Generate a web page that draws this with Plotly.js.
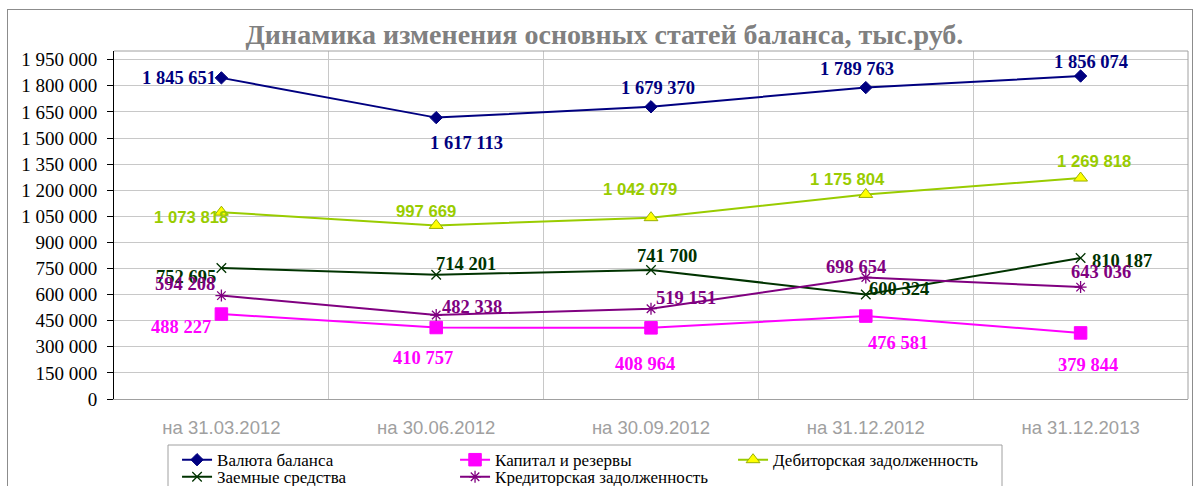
<!DOCTYPE html>
<html>
<head>
<meta charset="utf-8">
<script src="https://cdn.plot.ly/plotly-3.0.1.min.js"></script>
<style>
  html, body { margin: 0; padding: 0; background: #ffffff; }
  #wrap { position: relative; width: 1197px; height: 486px; overflow: hidden; }
  #chart { width: 1197px; height: 486px; }
  #frame { position: absolute; left: 7px; top: 9px; width: 1186px; height: 520px;
           border: 1px solid #8c8c8c; pointer-events: none; box-sizing: border-box; }
</style>
</head>
<body>
<div id="wrap">
  <div id="chart"></div>
  <div id="frame"></div>
</div>
<script>
// ---- data ----
const categories = ['на 31.03.2012', 'на 30.06.2012', 'на 30.09.2012', 'на 31.12.2012', 'на 31.12.2013'];
const valyutaBalansa = [1845651, 1617113, 1679370, 1789763, 1856074];
const kapitalIRezervy = [488227, 410757, 408964, 476581, 379844];
const debitorskaya = [1073818, 997669, 1042079, 1175804, 1269818];
const zaemnyeSredstva = [752695, 714201, 741700, 600324, 810187];
const kreditorskaya = [594208, 482338, 519151, 698654, 643036];
const seriesNames = ['Валюта баланса', 'Капитал и резервы', 'Дебиторская задолженность',
                     'Заемные средства', 'Кредиторская задолженность'];
const chartTitle = 'Динамика изменения основных статей баланса, тыс.руб.';

// ---- label placement (pixel offsets of label centre from point: [dx, dy], dy down) ----
const offValyuta = [[-42, 0], [30, 25], [7, -19], [-9, -19], [10, -14]];
const offKapital = [[-40, 13], [-13, 30], [-6, 36], [32, 27], [7, 32]];
const offDebitor = [[-30, 5], [-10, -14], [-11, -28], [-18, -15], [13, -17]];
const offZaemnye = [[-35, 9], [30, -11], [16, -14], [33, -6], [41, 3]];
const offKreditor = [[-36, -12], [36, -8], [35, -11], [-10, -10], [20, -15]];

const SERIF = '"Liberation Serif", "Times New Roman", serif';
const SANS = '"Liberation Sans", Arial, sans-serif';

function fmt(v) {
  return Math.round(v).toString().replace(/\B(?=(\d{3})+(?!\d))/g, ' ');
}

const styles = [
  { vals: valyutaBalansa, color: '#000080', off: offValyuta, family: SERIF, fsize: 18.5,
    marker: { symbol: 'diamond', size: 9.5, color: '#000080', line: { color: '#000080', width: 1 } }, legend: 'legend' },
  { vals: kapitalIRezervy, color: '#ff00ff', off: offKapital, family: SERIF, fsize: 18.5,
    marker: { symbol: 'square', size: 12.5, color: '#ff00ff', line: { color: '#ff00ff', width: 1 } }, legend: 'legend' },
  { vals: debitorskaya, color: '#99cc00', off: offDebitor, family: SANS, fsize: 16.7,
    marker: { symbol: 'triangle-up', size: 12, color: '#ffff00', line: { color: '#99b000', width: 1 } }, legend: 'legend' },
  { vals: zaemnyeSredstva, color: '#003300', off: offZaemnye, family: SERIF, fsize: 18.5,
    marker: { symbol: 'x-thin-open', size: 9.5, color: '#003300', line: { color: '#003300', width: 1.3 } }, legend: 'legend2' },
  { vals: kreditorskaya, color: '#800080', off: offKreditor, family: SERIF, fsize: 18.5,
    marker: { symbol: 'asterisk-open', size: 10, color: '#800080', line: { color: '#800080', width: 1.3 } }, legend: 'legend2' }
];

const traces = styles.map((s, k) => ({
  type: 'scatter',
  mode: 'lines+markers',
  name: seriesNames[k],
  x: categories,
  y: s.vals,
  line: { color: s.color, width: 2 },
  marker: s.marker,
  legend: s.legend,
  hoverinfo: 'x+y+name'
}));

const annotations = [];
styles.forEach((s) => {
  s.vals.forEach((v, i) => {
    annotations.push({
      x: categories[i], y: v, xref: 'x', yref: 'y',
      text: '<b>' + fmt(v) + '</b>',
      showarrow: false,
      xanchor: 'center', yanchor: 'middle',
      xshift: s.off[i][0], yshift: -s.off[i][1],
      font: { family: s.family, size: s.fsize, color: s.color }
    });
  });
});

function legendCfg(yv) {
  return {
    orientation: 'h',
    xanchor: 'left', yanchor: 'top',
    x: 0.0587, y: yv,
    bgcolor: 'rgba(0,0,0,0)',
    borderwidth: 0,
    entrywidth: 233,
    entrywidthmode: 'pixels',
    font: { family: SERIF, size: 17, color: '#000000' }
  };
}

const layout = {
  width: 1197,
  height: 486,
  font: { family: SERIF, size: 17, color: '#000000' },
  paper_bgcolor: '#ffffff',
  plot_bgcolor: '#ffffff',
  margin: { l: 114, r: 9, t: 51, b: 87, autoexpand: false },
  separators: ', ',
  title: {
    text: '<b>' + chartTitle + '</b>',
    x: 0.505, xanchor: 'center',
    y: 1 - 34 / 486, yanchor: 'middle',
    font: { family: SERIF, size: 28, color: '#808080' }
  },
  xaxis: {
    type: 'category',
    range: [-0.5, categories.length - 0.5],
    tickson: 'boundaries',
    showgrid: true,
    gridcolor: '#c8c8c8',
    gridwidth: 1,
    showline: true,
    linecolor: '#a0a0a0',
    linewidth: 1,
    ticks: '',
    ticklabelstandoff: 12,
    tickfont: { family: SANS, size: 18.5, color: '#a0a0a0' },
    zeroline: false,
    automargin: false,
    fixedrange: true
  },
  yaxis: {
    range: [0, 2000000],
    tick0: 0,
    dtick: 150000,
    tickformat: ',d',
    showgrid: true,
    gridcolor: '#c8c8c8',
    gridwidth: 1,
    showline: true,
    linecolor: '#000000',
    linewidth: 1,
    ticks: 'outside',
    ticklen: 6,
    tickcolor: '#000000',
    tickwidth: 1,
    ticklabelstandoff: 6,
    tickfont: { family: SERIF, size: 19, color: '#000000' },
    zeroline: false,
    automargin: false,
    fixedrange: true
  },
  showlegend: true,
  legend: legendCfg(-0.124),
  legend2: legendCfg(-0.173),
  shapes: [
    { type: 'line', xref: 'paper', yref: 'paper', x0: 0, x1: 1, y0: 1, y1: 1,
      line: { color: '#a0a0a0', width: 1 } },
    { type: 'line', xref: 'paper', yref: 'paper', x0: 1, x1: 1, y0: 0, y1: 1,
      line: { color: '#a0a0a0', width: 1 } },
    { type: 'rect', xref: 'paper', yref: 'paper',
      x0: (168 - 114) / 1074, x1: (1002 - 114) / 1074,
      y0: (399 - 445) / 348, y1: (399 - 520) / 348,
      line: { color: '#a0a0a0', width: 1 }, fillcolor: 'rgba(0,0,0,0)' }
  ],
  annotations: annotations
};

Plotly.newPlot('chart', traces, layout, { displayModeBar: false, responsive: false });
</script>
</body>
</html>
